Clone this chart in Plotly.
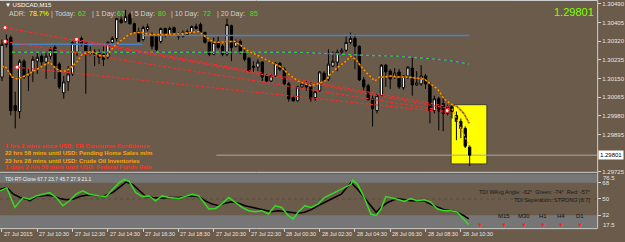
import plotly.graph_objects as go

W, H = 625, 242
BG = '#6b5b4b'
BAND = '#767676'
FONT = 'Liberation Sans, Arial, sans-serif'

# ---------------- data (M15 bars, bar 0 = 27 Jul 08:30) ----------------
open_ = [1.30157, 1.30328, 1.30337, 1.30027, 1.30000, 1.30229, 1.30162, 1.30180, 1.30229, 1.30252,
         1.30225, 1.30252, 1.30292, 1.30216, 1.30085, 1.30135, 1.30171, 1.30270, 1.30333, 1.30315,
         1.30261, 1.30274, 1.30270, 1.30261, 1.30247, 1.30315, 1.30333, 1.30418, 1.30409, 1.30441,
         1.30400, 1.30364, 1.30328, 1.30373, 1.30351, 1.30342, 1.30319, 1.30378, 1.30351, 1.30382,
         1.30351, 1.30342, 1.30351, 1.30360, 1.30378, 1.30396, 1.30360, 1.30315, 1.30261, 1.30319,
         1.30297, 1.30261, 1.30391, 1.30297, 1.30319, 1.30270, 1.30243, 1.30207, 1.30202, 1.30225,
         1.30162, 1.30139, 1.30162, 1.30220, 1.30193, 1.30126, 1.30063, 1.30049, 1.30112, 1.30126,
         1.30112, 1.30063, 1.30094, 1.30175, 1.30148, 1.30207, 1.30225, 1.30270, 1.30279, 1.30315,
         1.30333, 1.30297, 1.30144, 1.30117, 1.30058, 1.30004, 1.30072, 1.30211, 1.30184, 1.30162,
         1.30180, 1.30108, 1.30162, 1.30198, 1.30121, 1.30126, 1.30162, 1.30126, 1.30004, 1.30058,
         1.30036, 1.29991, 1.30022, 1.29982, 1.29955, 1.29923, 1.29838]
high = [1.30328, 1.30351, 1.30346, 1.30090, 1.30238, 1.30238, 1.30193, 1.30252, 1.30270, 1.30261,
        1.30270, 1.30292, 1.30301, 1.30225, 1.30162, 1.30207, 1.30319, 1.30337, 1.30342, 1.30315,
        1.30297, 1.30283, 1.30283, 1.30297, 1.30319, 1.30342, 1.30427, 1.30432, 1.30463, 1.30450,
        1.30405, 1.30382, 1.30391, 1.30400, 1.30360, 1.30346, 1.30382, 1.30382, 1.30387, 1.30387,
        1.30360, 1.30369, 1.30373, 1.30391, 1.30400, 1.30405, 1.30364, 1.30319, 1.30337, 1.30342,
        1.30306, 1.30423, 1.30396, 1.30328, 1.30328, 1.30283, 1.30247, 1.30229, 1.30238, 1.30229,
        1.30171, 1.30171, 1.30225, 1.30225, 1.30202, 1.30135, 1.30072, 1.30117, 1.30135, 1.30139,
        1.30135, 1.30094, 1.30184, 1.30184, 1.30283, 1.30274, 1.30283, 1.30288, 1.30342, 1.30360,
        1.30351, 1.30301, 1.30157, 1.30126, 1.30072, 1.30081, 1.30216, 1.30216, 1.30193, 1.30198,
        1.30193, 1.30166, 1.30207, 1.30247, 1.30184, 1.30211, 1.30171, 1.30135, 1.30072, 1.30067,
        1.30072, 1.30031, 1.30031, 1.30000, 1.29968, 1.29932, 1.29847]
low = [1.30139, 1.30292, 1.29982, 1.29923, 1.29968, 1.30148, 1.30094, 1.30135, 1.30171, 1.30207,
       1.30148, 1.30238, 1.30148, 1.30103, 1.30058, 1.30094, 1.30162, 1.30252, 1.30297, 1.30081,
       1.30252, 1.30207, 1.30216, 1.30207, 1.30238, 1.30306, 1.30319, 1.30400, 1.30405, 1.30396,
       1.30360, 1.30319, 1.30319, 1.30364, 1.30283, 1.30274, 1.30310, 1.30337, 1.30342, 1.30351,
       1.30328, 1.30337, 1.30346, 1.30355, 1.30373, 1.30355, 1.30310, 1.30252, 1.30256, 1.30283,
       1.30252, 1.30252, 1.30229, 1.30292, 1.30261, 1.30229, 1.30180, 1.30180, 1.30184, 1.30139,
       1.30135, 1.30135, 1.30157, 1.30184, 1.30117, 1.30045, 1.30045, 1.30045, 1.30108, 1.30094,
       1.30045, 1.30049, 1.30090, 1.30135, 1.30139, 1.30202, 1.30184, 1.30261, 1.30270, 1.30306,
       1.30193, 1.30139, 1.30094, 1.30049, 1.29932, 1.29991, 1.30067, 1.30112, 1.30103, 1.30148,
       1.30103, 1.30099, 1.30148, 1.30072, 1.30117, 1.30117, 1.30103, 1.29946, 1.29991, 1.29914,
       1.29910, 1.29982, 1.29968, 1.29869, 1.29878, 1.29833, 1.29752]
close = [1.30306, 1.30306, 1.30004, 1.30004, 1.30229, 1.30157, 1.30175, 1.30238, 1.30247, 1.30225,
         1.30252, 1.30283, 1.30207, 1.30112, 1.30135, 1.30171, 1.30315, 1.30328, 1.30306, 1.30261,
         1.30274, 1.30261, 1.30247, 1.30238, 1.30315, 1.30333, 1.30423, 1.30405, 1.30432, 1.30400,
         1.30360, 1.30319, 1.30382, 1.30387, 1.30297, 1.30283, 1.30378, 1.30346, 1.30378, 1.30360,
         1.30342, 1.30360, 1.30364, 1.30387, 1.30387, 1.30360, 1.30315, 1.30261, 1.30315, 1.30292,
         1.30261, 1.30396, 1.30292, 1.30319, 1.30270, 1.30238, 1.30184, 1.30202, 1.30225, 1.30157,
         1.30139, 1.30162, 1.30220, 1.30193, 1.30126, 1.30058, 1.30049, 1.30112, 1.30126, 1.30112,
         1.30058, 1.30090, 1.30180, 1.30139, 1.30216, 1.30229, 1.30270, 1.30279, 1.30315, 1.30333,
         1.30297, 1.30144, 1.30112, 1.30054, 1.30013, 1.30072, 1.30211, 1.30180, 1.30148, 1.30175,
         1.30112, 1.30162, 1.30202, 1.30121, 1.30130, 1.30162, 1.30126, 1.30004, 1.30058, 1.30000,
         1.29991, 1.30022, 1.30000, 1.29955, 1.29923, 1.29842, 1.29801]
bars = list(range(len(open_)))

# moving-average style dotted line
ma_bar = [0, 0.7, 2.3, 3.4, 5.2, 7.0, 9.2, 10.8, 11.9, 13.1, 14.6, 16.0, 17.1, 18.2, 20.3, 22.1, 23.7, 24.8,
          25.9, 27.3, 28.8, 30.4, 31.8, 33.3, 34.9, 37.8, 40.8, 43.0, 44.6, 46.4, 48.0, 49.5, 50.9, 52.9,
          54.3, 55.9, 57.4, 58.8, 60.4, 61.9, 63.3, 64.9, 66.4, 67.1, 68.7, 70.0, 71.6, 73.2, 74.5, 76.1,
          77.7, 79.1, 80.2, 81.3, 82.9, 84.5, 85.6, 86.7, 88.1, 89.6, 91.9, 94.1, 95.7, 97.1, 98.7, 100.2,
          101.6, 103.2, 104.7, 105.9]
ma_val = [1.30202, 1.30207, 1.30157, 1.30148, 1.30162, 1.30184, 1.30207, 1.30225, 1.30202, 1.30184,
          1.30184, 1.30207, 1.30229, 1.30261, 1.30274, 1.30256, 1.30252, 1.30283, 1.30306, 1.30328,
          1.30351, 1.30360, 1.30360, 1.30351, 1.30351, 1.30351, 1.30355, 1.30360, 1.30364, 1.30337,
          1.30315, 1.30315, 1.30319, 1.30319, 1.30297, 1.30274, 1.30261, 1.30247, 1.30229, 1.30216,
          1.30202, 1.30171, 1.30148, 1.30139, 1.30126, 1.30117, 1.30126, 1.30139, 1.30171, 1.30202,
          1.30225, 1.30252, 1.30238, 1.30207, 1.30171, 1.30139, 1.30157, 1.30157, 1.30162, 1.30157,
          1.30157, 1.30153, 1.30148, 1.30126, 1.30103, 1.30058, 1.30036, 1.30022, 1.29991, 1.29946]
ma2_bar = [102.0, 103.8, 105.9]
ma2_val = [1.30013, 1.29932, 1.29842]

blue1_bar = [2.3, 31.8]
blue1_val = [1.30306, 1.30306]
blue2_bar = [31.8, 105.9]
blue2_val = [1.30346, 1.30346]

trend_bar = [2.3, 67.1, 82.2, 89.6, 100.9, 105.9]
trend_val = [1.30270, 1.30270, 1.30256, 1.30252, 1.30234, 1.30216]

red_start_bar = [0.7, 0.7, 3.4, 16.9]
red_start_val = [1.30382, 1.30319, 1.30202, 1.30328]
red_end_bar = 101.4
red_end_val = [1.30013, 1.30000, 1.29995, 1.30022]

box_bar = [101.8, 109.9]
box_val = [1.29761, 1.30031]
last_price = 1.29801
price_line_start = 48.6

# TDI indicator
g_bar = [-0.4, 1.1, 2.9, 4.8, 6.3, 7.8, 9.3, 10.8, 12.3, 13.8, 15.3, 16.8, 18.3, 19.8, 22.1, 23.6, 25.1,
         26.6, 27.7, 28.8, 30.3, 31.8, 33.3, 34.8, 36.3, 37.8, 40.1, 41.6, 43.1, 44.6, 46.9, 48.4, 49.8,
         51.4, 52.9, 54.4, 55.9, 57.4, 58.9, 60.4, 61.9, 63.4, 64.9, 66.0, 67.1, 68.6, 70.1, 71.6, 73.1,
         74.6, 76.9, 79.1, 79.5, 80.6, 82.1, 83.6, 84.8, 85.9, 87.0, 88.1, 89.6, 91.2, 92.6, 94.1, 95.7,
         97.1, 98.7, 100.2, 101.7, 103.2, 104.7, 105.8]
g_val = [58.9, 62.5, 40.7, 51.6, 49.8, 53.4, 55.3, 57.1, 51.6, 42.5, 48.0, 55.3, 58.9, 55.3, 53.4, 52.7,
         60.7, 68.0, 71.6, 69.8, 57.1, 52.7, 53.4, 48.0, 53.4, 51.6, 50.5, 52.7, 55.3, 53.4, 38.9, 39.6,
         44.4, 51.6, 46.2, 40.7, 37.1, 36.0, 37.1, 33.4, 42.5, 40.7, 31.6, 28.0, 35.3, 42.5, 40.7, 44.4,
         51.6, 55.3, 60.7, 66.2, 70.9, 66.2, 51.6, 33.4, 31.6, 38.9, 52.7, 51.6, 49.8, 47.3, 50.5, 48.0,
         49.1, 46.9, 38.9, 37.1, 37.1, 35.3, 28.0, 21.5]
r_bar = [-0.4, 1.1, 2.6, 4.1, 5.6, 6.3, 7.8, 10.1, 11.6, 13.1, 14.6, 16.1, 17.6, 19.1, 20.6, 22.8, 25.1,
         26.6, 28.1, 29.6, 31.1, 32.6, 34.1, 36.3, 37.8, 40.1, 42.3, 44.6, 46.1, 47.6, 49.1, 50.6, 52.1,
         53.6, 55.1, 56.6, 58.1, 59.6, 61.1, 62.6, 64.1, 65.6, 67.1, 68.6, 70.1, 71.6, 73.1, 74.6, 76.9,
         79.1, 80.6, 82.1, 83.6, 84.8, 85.9, 87.4, 88.9, 89.6, 91.2, 92.6, 94.1, 95.7, 97.1, 98.7, 100.2,
         101.7, 103.2, 104.7, 105.8]
r_val = [60.7, 62.5, 55.3, 51.6, 49.8, 48.0, 52.7, 54.2, 53.4, 50.5, 49.1, 49.8, 52.7, 54.2, 54.2, 52.7,
         57.1, 62.5, 68.7, 66.2, 58.9, 52.7, 51.6, 50.9, 51.6, 51.6, 53.4, 52.7, 48.0, 44.4, 42.5, 45.4,
         46.9, 45.4, 42.5, 40.7, 38.9, 37.8, 36.0, 37.1, 36.0, 34.5, 34.2, 35.3, 38.2, 42.5, 46.2, 49.8,
         55.3, 68.0, 60.7, 51.6, 42.5, 35.3, 40.7, 46.2, 49.1, 50.5, 49.1, 48.0, 48.0, 48.0, 44.4, 41.4,
         38.2, 37.1, 35.3, 31.6, 28.0]

time_labels = ['27 Jul 2015', '27 Jul 10:30', '27 Jul 12:30', '27 Jul 14:30', '27 Jul 16:30',
               '27 Jul 18:30', '27 Jul 20:30', '27 Jul 22:30', '28 Jul 00:30', '28 Jul 02:30',
               '28 Jul 04:30', '28 Jul 06:30', '28 Jul 08:30', '28 Jul 10:30']
time_label_bars = [0, 8, 16, 24, 32, 40, 48, 56, 64, 72, 80, 88, 96, 104]
price_ticks = [1.30490, 1.30405, 1.30320, 1.30235, 1.30150, 1.30065, 1.29980, 1.29895, 1.29725]
tdi_ticks = [68, 50, 32]

events = [('1 hrs 2 mins since USD: CB Consumer Confidence', '#ff3322'),
          ('22 hrs 58 mins until USD: Pending Home Sales m/m', '#ffa500'),
          ('23 hrs 28 mins until USD: Crude Oil Inventories', '#ffa500'),
          ('1 days 2 hrs 58 mins until USD: Federal Funds Rate', '#ff3322')]
adr_parts = [('ADR:', '#d0d0d0', 7), ('78.7%', '#ffff00', 27), ('| Today:', '#d0d0d0', 49),
             ('62', '#22ee22', 76), ('| 1 Day:', '#d0d0d0', 91), ('67', '#22ee22', 116),
             ('| 5 Day:', '#d0d0d0', 130), ('80', '#22ee22', 157), ('| 10 Day:', '#d0d0d0', 170),
             ('72', '#22ee22', 202), ('| 20 Day:', '#d0d0d0', 216), ('85', '#22ee22', 250)]
tf_labels = ['', 'M15', 'M30', 'H1', 'H4', 'D1']
tf_px = [483, 507, 527, 546, 565, 584]

# ---------------- figure ----------------
XR = [-0.45, 134.9]
PLOT_R = 601
fig = go.Figure()

fig.add_trace(go.Scatter(x=blue1_bar, y=blue1_val, mode='lines', line=dict(color='#4a82c8', width=1.5),
                         showlegend=False, hoverinfo='skip'))
fig.add_trace(go.Scatter(x=blue2_bar, y=blue2_val, mode='lines', line=dict(color='#4a82c8', width=1.5),
                         showlegend=False, hoverinfo='skip'))
fig.add_trace(go.Scatter(x=trend_bar, y=trend_val, mode='lines', line=dict(color='#7b2fbe', width=1.3),
                         showlegend=False, hoverinfo='skip'))
fig.add_trace(go.Scatter(x=trend_bar, y=trend_val, mode='lines',
                         line=dict(color='#33cc33', width=1.3, dash='3px,3px'),
                         showlegend=False, hoverinfo='skip'))
for sb, sv, ev in zip(red_start_bar, red_start_val, red_end_val):
    fig.add_trace(go.Scatter(x=[sb, red_end_bar], y=[sv, ev], mode='lines',
                             line=dict(color='#ff2a2a', width=1.1, dash='3px,2px'),
                             showlegend=False, hoverinfo='skip'))

fig.add_trace(go.Candlestick(
    x=bars, open=open_, high=high, low=low, close=close, xaxis='x', yaxis='y',
    increasing=dict(fillcolor='#ffffff', line=dict(color='#000000', width=1)),
    decreasing=dict(fillcolor='#000000', line=dict(color='#000000', width=1)),
    whiskerwidth=0, hoverinfo='skip', showlegend=False))

fig.add_trace(go.Scatter(x=red_start_bar + [red_end_bar - 0.5], y=red_start_val + [1.30004], mode='markers',
                         marker=dict(symbol='circle', size=4, color='#ffffff',
                                     line=dict(color='#ff2020', width=1.2)),
                         showlegend=False, hoverinfo='skip'))
fig.add_trace(go.Scatter(x=ma_bar, y=ma_val, mode='lines', line=dict(color='#8a4a15', width=1.5),
                         showlegend=False, hoverinfo='skip'))
fig.add_trace(go.Scatter(x=ma_bar, y=ma_val, mode='lines', line=dict(color='#ff9900', width=1.5, dash='2px,2px'),
                         showlegend=False, hoverinfo='skip'))
fig.add_trace(go.Scatter(x=ma2_bar, y=ma2_val, mode='lines', line=dict(color='#ff9900', width=1.3, dash='2px,2px'),
                         showlegend=False, hoverinfo='skip'))

fig.add_trace(go.Scatter(x=r_bar, y=r_val, xaxis='x2', yaxis='y2', mode='lines',
                         line=dict(color='#000000', width=1.5), showlegend=False, hoverinfo='skip'))
fig.add_trace(go.Scatter(x=g_bar, y=g_val, xaxis='x2', yaxis='y2', mode='lines',
                         line=dict(color='#33dd22', width=1.5), showlegend=False, hoverinfo='skip'))

def py(p):
    return 1 - p / H

def px(p):
    return p / W

main_dom = [py(174), 1.0]
ind_dom = [py(231), py(176)]
xdom = [0, px(PLOT_R)]

tickfont = dict(family=FONT, size=6, color='#e6e6e6')
fig.update_layout(
    width=W, height=H, margin=dict(l=0, r=0, t=0, b=0),
    paper_bgcolor=BG, plot_bgcolor=BG, showlegend=False, boxgap=0.25,
    xaxis=dict(domain=xdom, range=XR, anchor='y', showgrid=False, zeroline=False,
               showticklabels=False, rangeslider=dict(visible=False), fixedrange=True),
    yaxis=dict(domain=main_dom, range=[1.29725, 1.30508], side='right', anchor='x',
               tickvals=price_ticks, ticktext=['%.5f' % v for v in price_ticks],
               ticks='outside', ticklen=3, tickcolor='#d0d0d0', tickfont=tickfont,
               showgrid=False, zeroline=False, fixedrange=True),
    xaxis2=dict(domain=xdom, range=XR, anchor='y2', showgrid=False, zeroline=False,
                tickvals=time_label_bars, ticks='outside', ticklen=3, tickcolor='#d0d0d0',
                showticklabels=False, fixedrange=True),
    yaxis2=dict(domain=ind_dom, range=[17.8, 77.8], side='right', anchor='x2',
                tickvals=tdi_ticks, ticktext=[str(v) for v in tdi_ticks],
                ticks='outside', ticklen=3, tickcolor='#d0d0d0', tickfont=tickfont,
                showgrid=False, zeroline=False, fixedrange=True),
)

shapes = []
shapes.append(dict(type='rect', xref='x2 domain', yref='y2', x0=0, x1=1, y0=68, y1=77.8,
                   fillcolor=BAND, line=dict(width=0), layer='below'))
shapes.append(dict(type='rect', xref='x2 domain', yref='y2', x0=0, x1=1, y0=17.8, y1=32,
                   fillcolor=BAND, line=dict(width=0), layer='below'))
shapes.append(dict(type='line', xref='x2 domain', yref='y2', x0=0, x1=1, y0=50, y1=50,
                   line=dict(color='#5a4a3a', width=1, dash='dot'), layer='below'))
shapes.append(dict(type='rect', xref='x', yref='y', x0=box_bar[0], x1=box_bar[1], y0=box_val[0], y1=box_val[1],
                   fillcolor='#ffff00', line=dict(color='#3a3a3a', width=1), layer='below'))
shapes.append(dict(type='line', xref='x', yref='y', x0=price_line_start, x1=XR[1], y0=last_price, y1=last_price,
                   line=dict(color='#a8a8a8', width=1), layer='below'))
LC = '#cfcfcf'
shapes.append(dict(type='line', xref='paper', yref='paper', x0=0, x1=px(PLOT_R), y0=py(0.5), y1=py(0.5),
                   line=dict(color=LC, width=1)))
shapes.append(dict(type='line', xref='paper', yref='paper', x0=0, x1=px(PLOT_R), y0=py(174.5), y1=py(174.5),
                   line=dict(color=LC, width=1)))
shapes.append(dict(type='line', xref='paper', yref='paper', x0=0, x1=px(PLOT_R), y0=py(231.5), y1=py(231.5),
                   line=dict(color=LC, width=1)))
shapes.append(dict(type='line', xref='paper', yref='paper', x0=px(PLOT_R + 0.5), x1=px(PLOT_R + 0.5),
                   y0=py(0), y1=py(231.5), line=dict(color=LC, width=1)))
fig.update_layout(shapes=shapes)

ann = []
def text(t, x, y, color, size, anchor='left', bold=False, bg=None):
    d = dict(text=('<b>%s</b>' % t) if bold else t, xref='paper', yref='paper', x=px(x), y=py(y),
             xanchor=anchor, yanchor='middle', showarrow=False,
             font=dict(family=FONT, size=size, color=color))
    if bg:
        d['bgcolor'] = bg
    ann.append(d)

text('▼ USDCAD,M15', 3, 5, '#ffffff', 6)
for t, c, x in adr_parts:
    text(t, x, 14, c, 7)
text('1.29801', 600, 12, '#7fff00', 11, anchor='right')
for i, (t, c) in enumerate(events):
    text(t, 3, [147.5, 155, 162.7, 169.5][i], c, 6, bold=True)
text('TDI-RT-Clone 67.7 23.7 45.7 27.9 21.1', 3, 181, '#f0f0f0', 5)
text('TDI WAvg Angle: -62°  Green: -74°  Red: -57°', 596, 194, '#1a1a1a', 5.5, anchor='right')
text('TDI Seperation: STRONG [6.7]', 596, 203, '#1a1a1a', 5.5, anchor='right')
for t, x in zip(tf_labels, tf_px):
    if t:
        text(t, x, 219, '#111111', 6, anchor='center')
    text('▼', x, 228, '#ff2020', 6, anchor='center')
text('76.5', 605, 180, '#e6e6e6', 6)
text('17.5', 605, 228, '#e6e6e6', 6)
text('1.29801', 601.5, 156.5, '#000000', 6, bg='#ffffff')
for t, b in zip(time_labels, time_label_bars):
    ann.append(dict(text=t, xref='x2', yref='paper', x=b, y=py(237), xanchor='left', yanchor='middle',
                    showarrow=False, font=dict(family=FONT, size=5.5, color='#e6e6e6')))
fig.update_layout(annotations=ann)

fig.write_html('out.html')
